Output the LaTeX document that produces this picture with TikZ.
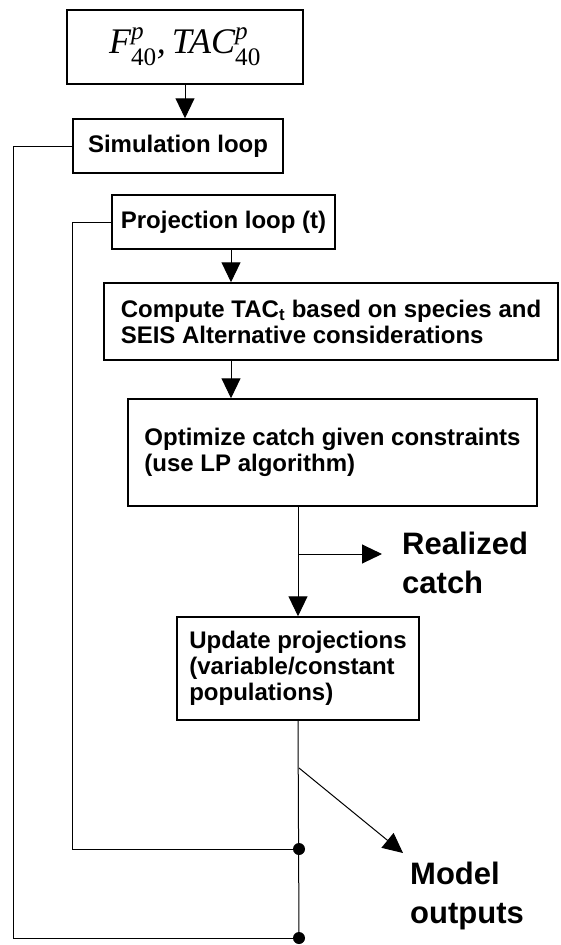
\documentclass[tikz,border=0pt]{standalone}
\usepackage{amsmath}
\usepackage{fontspec}
\setmainfont{Liberation Sans}
\newfontfamily\timesfont{Liberation Serif}
\usetikzlibrary{arrows.meta}

\begin{document}
\begin{tikzpicture}[x=1pt, y=-1pt, line join=miter,
    box/.style={draw, line width=1.5pt, align=left, inner sep=0pt,
        font=\fontsize{24}{26}\selectfont\bfseries},
    link/.style={line width=1pt},
    arr/.style={link, -{Triangle[length=20pt,width=19pt]}},
    big/.style={align=left, inner sep=0pt, font=\fontsize{31}{38.5}\selectfont\bfseries}]

    \useasboundingbox (0,0) rectangle (560,945);

    % boxes
    \node[draw, line width=1.5pt, minimum width=236pt, minimum height=74pt,
        font=\fontsize{36}{40}\selectfont\timesfont\itshape] (start) at (185,47)
        {F$^{\text{\itshape p}}_{\text{\upshape 40}}$,\,TAC$^{\text{\itshape p}}_{\text{\upshape 40}}$};
    \node[box, minimum width=210pt, minimum height=54pt] (sim) at (178,146) {Simulation loop};
    \node[box, minimum width=223pt, minimum height=54pt] (proj) at (223.5,222) {Projection loop (t)};
    \node[box, minimum width=454pt, minimum height=77pt] (tac) at (331,321.5)
        {Compute TAC\textsubscript{t} based on species and\\SEIS Alternative considerations};
    \node[box, minimum width=409pt, minimum height=107pt] (lp) at (332.5,452.5)
        {Optimize catch given constraints\\(use LP algorithm)};
    \node[box, minimum width=242pt, minimum height=103pt] (update) at (298,668.5)
        {Update projections\\(variable/constant\\populations)};

    % outputs
    \node[big, anchor=west, inner xsep=20pt] (catch) at (382,563) {Realized\\catch};
    \node[big, anchor=north west] (outputs) at (410,862) {Model\\outputs};

    \coordinate (spine) at (231,0);
    \coordinate (catchTap) at (298,554);
    \coordinate (outTap) at (299,768);
    \coordinate (outTip) at (403,853);
    \coordinate (projEnd) at (299,849);
    \coordinate (simEnd) at (299,938);

    \draw[arr] (start.south) -- (start.south |- sim.north);
    \draw[arr] (proj.south -| spine) -- (tac.north -| spine);
    \draw[arr] (tac.south -| spine) -- (lp.north -| spine);
    \draw[arr] (lp.south -| update) -- (update.north);
    \draw[arr] (catchTap) -- (catchTap -| catch.west);
    \draw[link] (update.south) -- (simEnd);
    \draw[arr] (outTap) -- (outTip);

    % loops back
    \draw[link] (sim.west) -- ++(-59,0) |- (simEnd);
    \draw[link] (proj.west) -- ++(-39,0) |- (projEnd);
    \fill (projEnd) circle (6);
    \fill (simEnd) circle (6);

\end{tikzpicture}
\end{document}
